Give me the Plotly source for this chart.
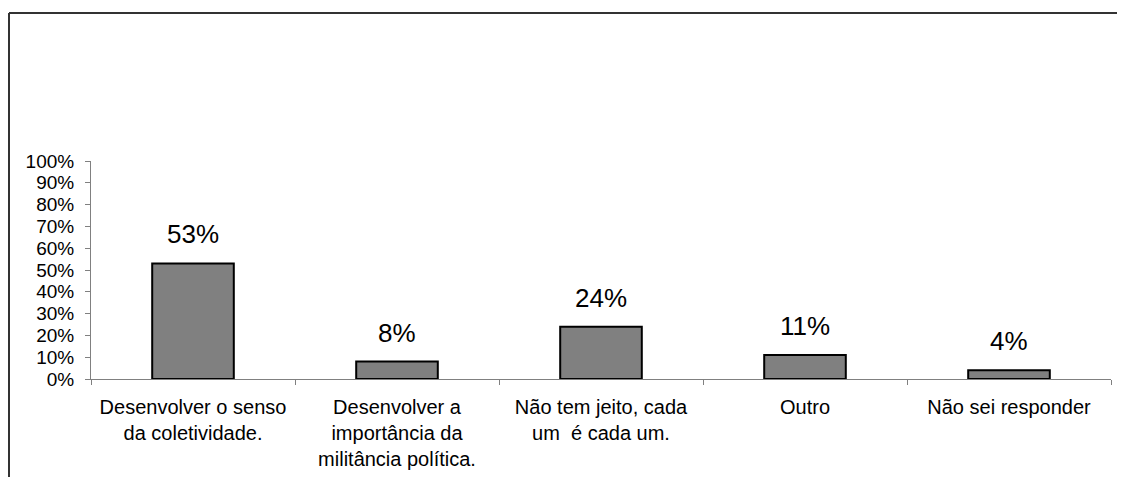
import plotly.graph_objects as go

# categorias e valores (fracao)
categorias = [
    "Desenvolver o senso<br>da coletividade.",
    "Desenvolver a<br>importância da<br>militância política.",
    "Não tem jeito, cada<br>um\u00a0 é cada um.",
    "Outro",
    "Não sei responder",
]
valores = [0.53, 0.08, 0.24, 0.11, 0.04]
rotulos = ["53%", "8%", "24%", "11%", "4%"]
y_ticks = [0, 0.1, 0.2, 0.3, 0.4, 0.5, 0.6, 0.7, 0.8, 0.9, 1.0]

# a pagina tem margem de 8px no body, compensar
W, H = 1117, 469
L, R, T, B = 83, 14, 153, 98
pw, ph = W - L - R, H - T - B

def px_x(x):
    return (x - L) / pw

def px_y(y):
    return (H - B - y) / ph

fig = go.Figure()
fig.add_trace(go.Bar(
    x=categorias,
    y=valores,
    width=0.4,
    marker=dict(color="#808080", line=dict(color="black", width=2)),
    hoverinfo="skip",
))

# rotulos de dados acima das barras
for c, v, t in zip(categorias, valores, rotulos):
    fig.add_annotation(x=c, y=v, text=t, showarrow=False, yanchor="bottom",
                       yshift=12, font=dict(size=26, color="black"))

# moldura (linha superior e esquerda)
fig.add_shape(type="line", xref="paper", yref="paper",
              x0=px_x(1), x1=px_x(1130), y0=px_y(5), y1=px_y(5),
              line=dict(color="#333333", width=2))
fig.add_shape(type="line", xref="paper", yref="paper",
              x0=px_x(1), x1=px_x(1), y0=px_y(5), y1=px_y(480),
              line=dict(color="#333333", width=2))

fig.update_layout(
    width=W, height=H,
    margin=dict(l=L, r=R, t=T, b=B),
    paper_bgcolor="white", plot_bgcolor="white",
    font=dict(family="Liberation Sans, Arial, sans-serif", color="black"),
    showlegend=False,
    bargap=0.6,
)
fig.update_xaxes(
    showline=True, linecolor="#808080", linewidth=1,
    ticks="outside", ticklen=5, tickcolor="#808080", tickson="boundaries",
    tickfont=dict(size=20), showgrid=False, ticklabelstandoff=10,
    automargin=False,
)
fig.update_yaxes(
    range=[0, 1], tickvals=y_ticks, tickformat=".0%",
    showline=True, linecolor="#808080", linewidth=1,
    ticks="outside", ticklen=5, tickcolor="#808080",
    tickfont=dict(size=19), showgrid=False, zeroline=False,
    ticklabelstandoff=7, automargin=False,
)

fig.write_html("out.html")
